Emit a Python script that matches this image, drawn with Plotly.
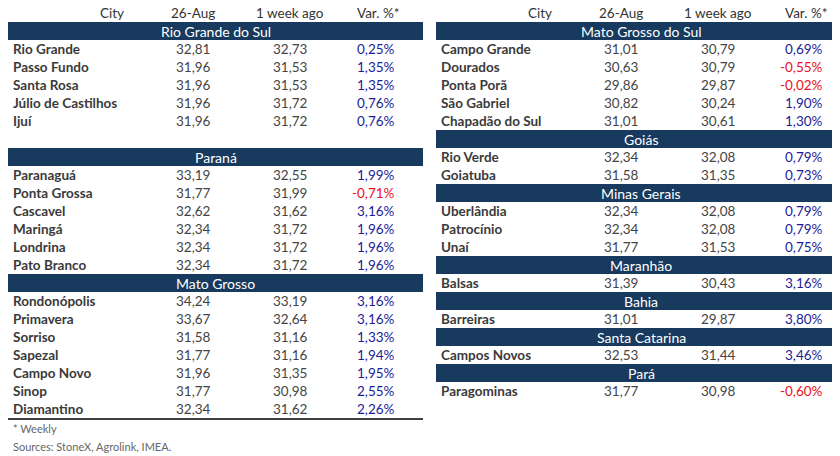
import plotly.graph_objects as go

# ---- data ----------------------------------------------------------------
columns = ["City", "26-Aug", "1 week ago", "Var. %*"]

rs_cities = ["Rio Grande", "Passo Fundo", "Santa Rosa", "Júlio de Castilhos", "Ijuí"]
rs_aug = ["32,81", "31,96", "31,96", "31,96", "31,96"]
rs_week = ["32,73", "31,53", "31,53", "31,72", "31,72"]
rs_var = [0.25, 1.35, 1.35, 0.76, 0.76]

pr_cities = ["Paranaguá", "Ponta Grossa", "Cascavel", "Maringá", "Londrina", "Pato Branco"]
pr_aug = ["33,19", "31,77", "32,62", "32,34", "32,34", "32,34"]
pr_week = ["32,55", "31,99", "31,62", "31,72", "31,72", "31,72"]
pr_var = [1.99, -0.71, 3.16, 1.96, 1.96, 1.96]

mt_cities = ["Rondonópolis", "Primavera", "Sorriso", "Sapezal", "Campo Novo", "Sinop", "Diamantino"]
mt_aug = ["34,24", "33,67", "31,58", "31,77", "31,96", "31,77", "32,34"]
mt_week = ["33,19", "32,64", "31,16", "31,16", "31,35", "30,98", "31,62"]
mt_var = [3.16, 3.16, 1.33, 1.94, 1.95, 2.55, 2.26]

ms_cities = ["Campo Grande", "Dourados", "Ponta Porã", "São Gabriel", "Chapadão do Sul"]
ms_aug = ["31,01", "30,63", "29,86", "30,82", "31,01"]
ms_week = ["30,79", "30,79", "29,87", "30,24", "30,61"]
ms_var = [0.69, -0.55, -0.02, 1.90, 1.30]

go_cities = ["Rio Verde", "Goiatuba"]
go_aug = ["32,34", "31,58"]
go_week = ["32,08", "31,35"]
go_var = [0.79, 0.73]

mg_cities = ["Uberlândia", "Patrocínio", "Unaí"]
mg_aug = ["32,34", "32,34", "31,77"]
mg_week = ["32,08", "32,08", "31,53"]
mg_var = [0.79, 0.79, 0.75]

ma_cities = ["Balsas"]; ma_aug = ["31,39"]; ma_week = ["30,43"]; ma_var = [3.16]
ba_cities = ["Barreiras"]; ba_aug = ["31,01"]; ba_week = ["29,87"]; ba_var = [3.80]
sc_cities = ["Campos Novos"]; sc_aug = ["32,53"]; sc_week = ["31,44"]; sc_var = [3.46]
pa_cities = ["Paragominas"]; pa_aug = ["31,77"]; pa_week = ["30,98"]; pa_var = [-0.60]

left_sections = [
    ("Rio Grande do Sul", rs_cities, rs_aug, rs_week, rs_var, True),
    ("Paraná", pr_cities, pr_aug, pr_week, pr_var, False),
    ("Mato Grosso", mt_cities, mt_aug, mt_week, mt_var, False),
]
right_sections = [
    ("Mato Grosso do Sul", ms_cities, ms_aug, ms_week, ms_var, False),
    ("Goiás", go_cities, go_aug, go_week, go_var, False),
    ("Minas Gerais", mg_cities, mg_aug, mg_week, mg_var, False),
    ("Maranhão", ma_cities, ma_aug, ma_week, ma_var, False),
    ("Bahia", ba_cities, ba_aug, ba_week, ba_var, False),
    ("Santa Catarina", sc_cities, sc_aug, sc_week, sc_var, False),
    ("Pará", pa_cities, pa_aug, pa_week, pa_var, False),
]

NAVY = "#173a5e"
BLUE = "#1c1c96"
RED = "#e8101a"
GREY = "#444444"
FONT = "Lato"
ROW = 18
TOP = 5

fig = go.Figure()
shapes = []
annos = []


def txt(x, y, s, anchor="center", color=GREY, bold=False, size=13.5):
    annos.append(dict(x=x, y=y, text="<b>%s</b>" % s if bold else s, xref="x", yref="y",
                      showarrow=False, xanchor=anchor, yanchor="middle",
                      font=dict(family=FONT, size=size, color=color)))


def draw_table(x0, x1, sections):
    c1, c2, cv = x0 + 185, x0 + 282, x0 + 370
    y = TOP
    for name, xpos in zip(columns, [x0 + 104, c1, c2, cv]):
        txt(xpos, y, name, color="#333333")
    for name, cities, aug, week, var, gap in sections:
        y += ROW
        shapes.append(dict(type="rect", xref="x", yref="y", x0=x0, x1=x1,
                           y0=y - ROW / 2, y1=y + ROW / 2, fillcolor=NAVY, line_width=0, layer="below"))
        txt((x0 + x1) / 2, y, name, color="white", size=14)
        for c, a, w, v in zip(cities, aug, week, var):
            y += ROW
            txt(x0 + 3, y, c, anchor="left", color="#3a3a3a", bold=True)
            txt(c1, y, a)
            txt(c2, y, w)
            txt(cv + 19, y, ("%.2f%%" % v).replace(".", ","), anchor="right",
                color=RED if v < 0 else BLUE)
        if gap:
            y += ROW
    return y


ly = draw_table(0, 415, left_sections)
draw_table(428, 838, right_sections)

shapes.append(dict(type="line", xref="x", yref="y", x0=0, x1=415, y0=ly + 10, y1=ly + 10,
                   line=dict(color="black", width=1.5)))
txt(3, ly + 19, "* Weekly", anchor="left", color="#666666", size=11)
txt(3, ly + 37, "Sources: StoneX, Agrolink, IMEA.", anchor="left", color="#666666", size=11)

fig.update_layout(
    width=840, height=456, margin=dict(l=0, r=0, t=0, b=0),
    plot_bgcolor="white", paper_bgcolor="white",
    xaxis=dict(range=[0, 840], visible=False, fixedrange=True),
    yaxis=dict(range=[456, 0], visible=False, fixedrange=True),
    shapes=shapes, annotations=annos, showlegend=False,
)
fig.write_html("out.html")
